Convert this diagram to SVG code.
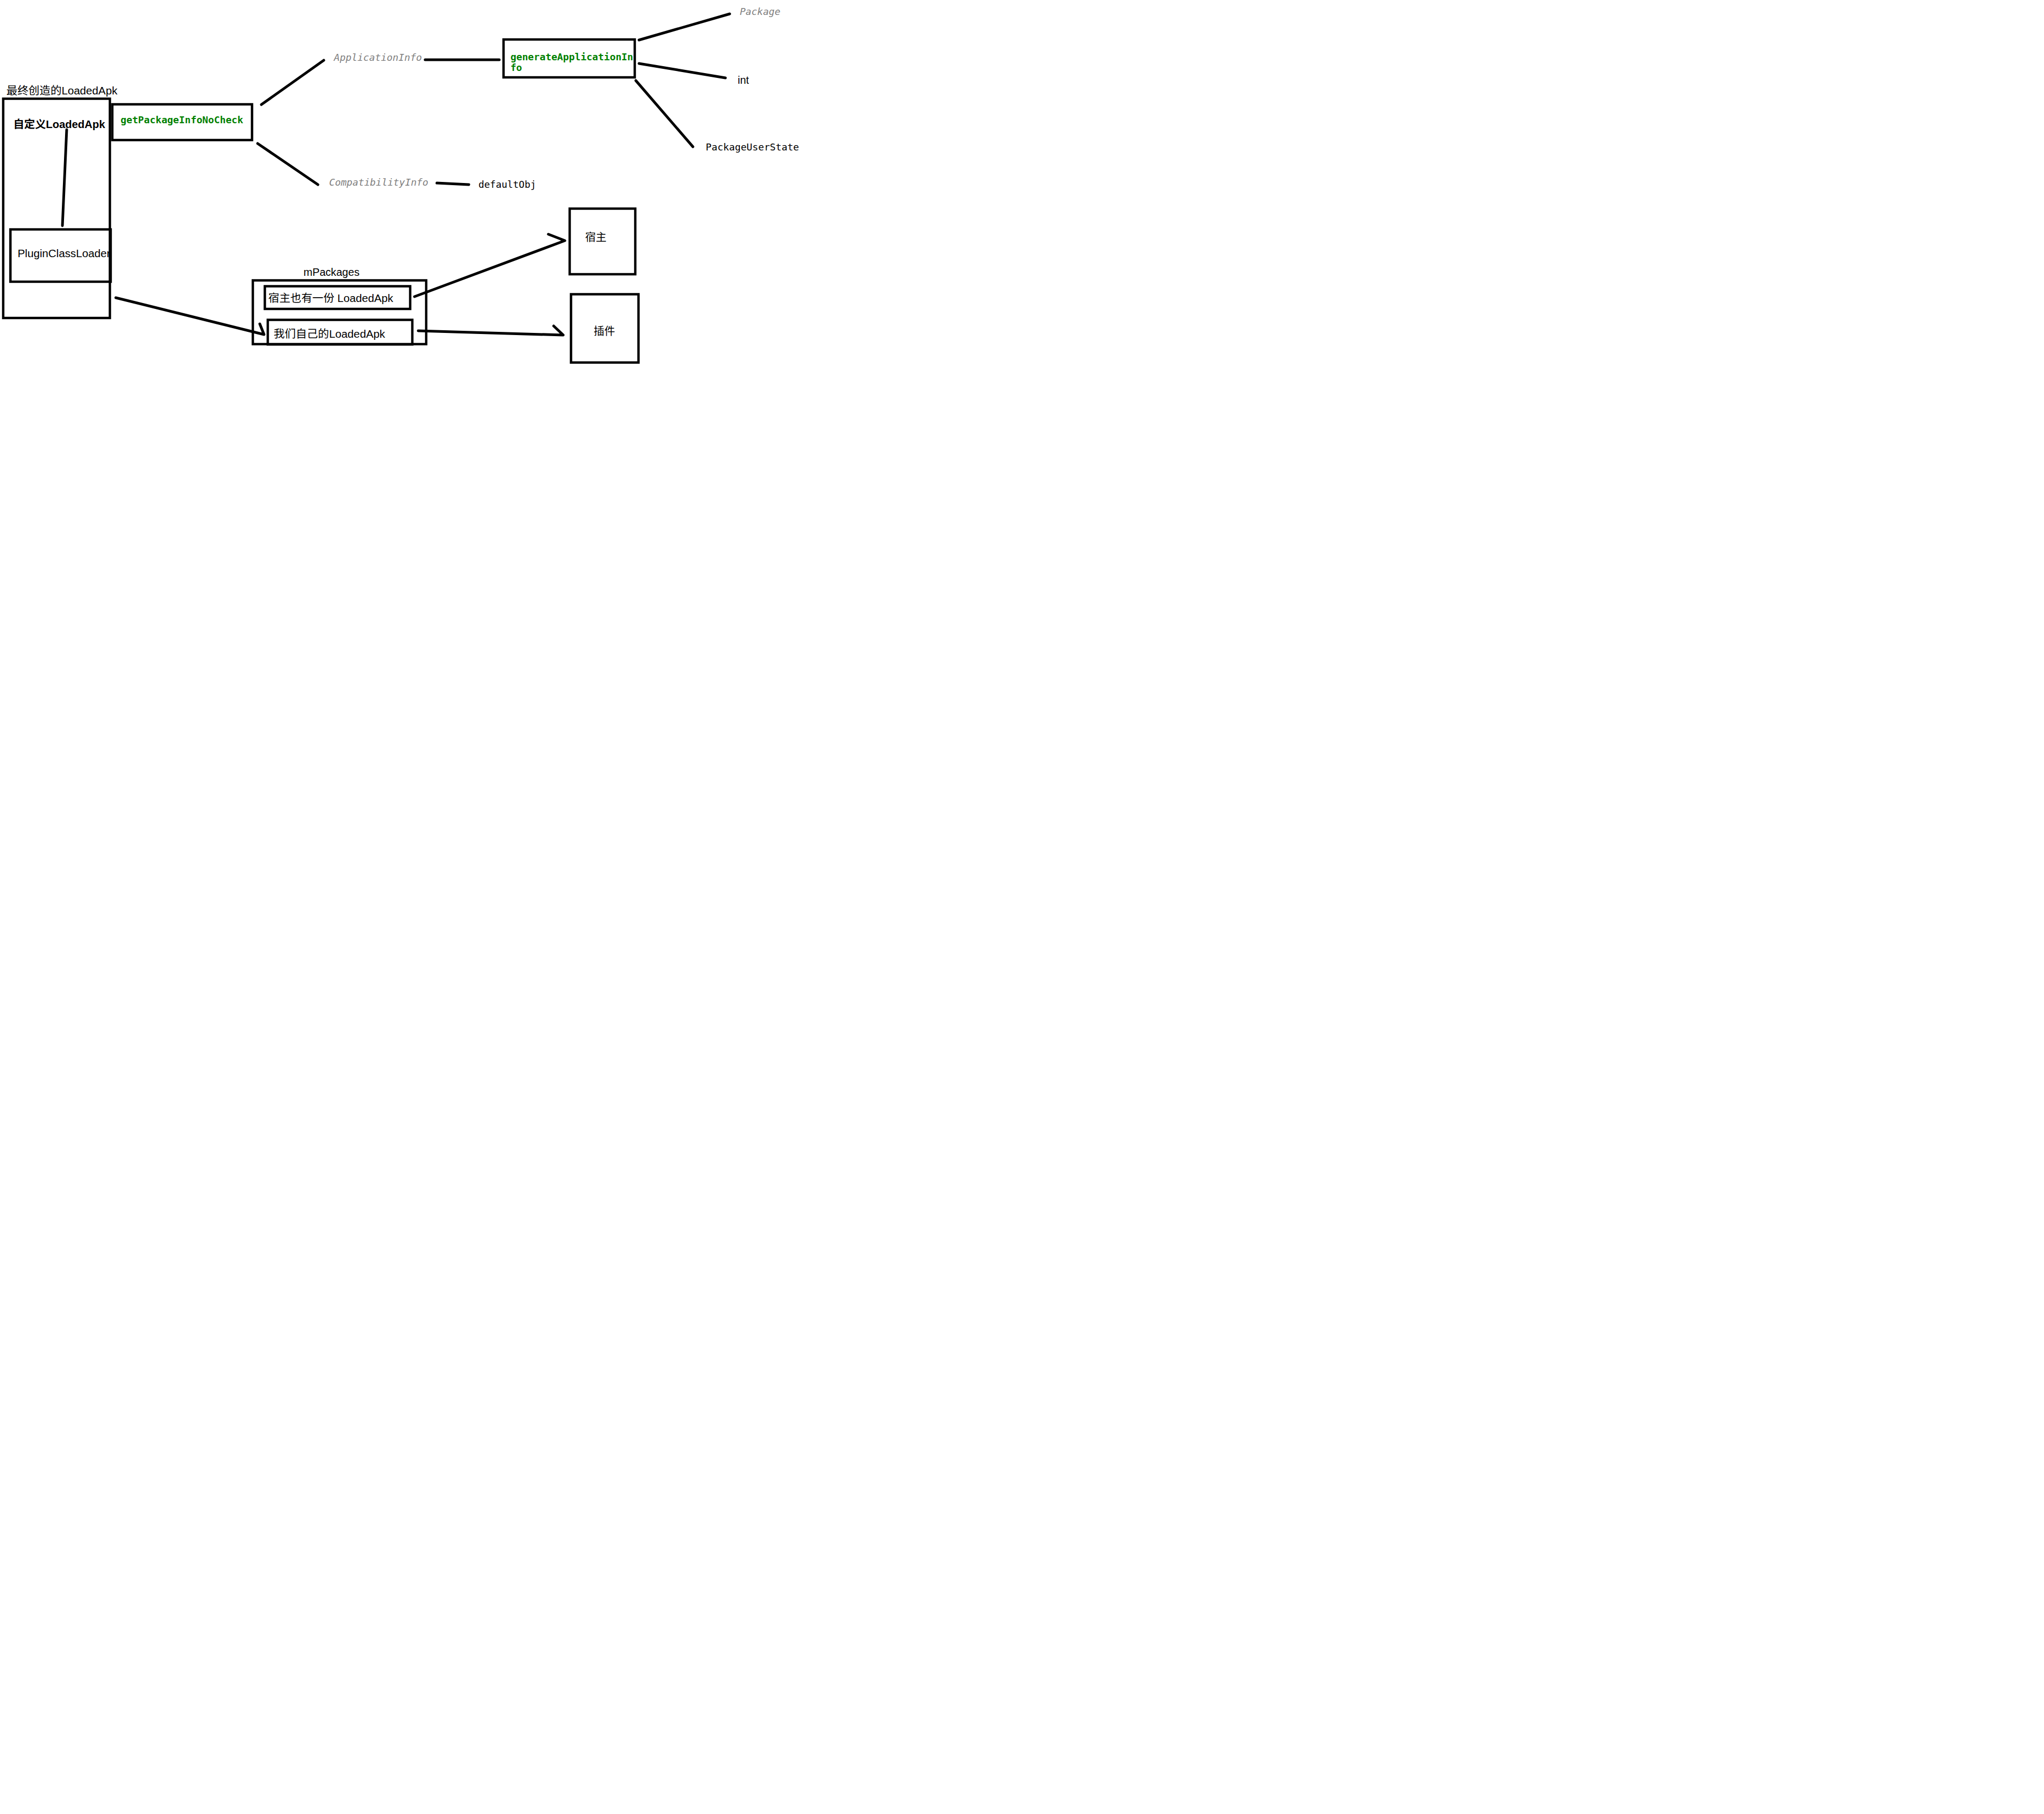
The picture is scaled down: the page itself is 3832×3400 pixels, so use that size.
<svg xmlns="http://www.w3.org/2000/svg" width="3832" height="3400" viewBox="0 0 3832 3400">
<style>
.box{fill:none;stroke:#000;stroke-width:4.5}
.ln{fill:none;stroke:#000;stroke-width:5;stroke-linecap:round;stroke-linejoin:round}
.sans{font-family:"Liberation Sans","Noto Sans CJK SC",sans-serif;font-size:20px;fill:#000}
.mono{font-family:"DejaVu Sans Mono","Liberation Mono",monospace;font-size:18px;fill:#000}
.green{fill:#008000;font-weight:bold}
.gray{fill:#808080;font-style:italic}
</style>
<rect x="0" y="0" width="3832" height="3400" fill="#fff"/>
<g id="final-loadedapk">
  <text class="sans" x="12" y="177" textLength="208" lengthAdjust="spacingAndGlyphs">最终创造的LoadedApk</text>
  <rect class="box" x="6" y="185" width="200" height="411"/>
  <text class="sans" x="25" y="240" font-weight="bold" textLength="172" lengthAdjust="spacingAndGlyphs">自定义LoadedApk</text>
</g>
<g id="plugin-classloader">
  <text class="sans" x="33" y="482" textLength="174" lengthAdjust="spacingAndGlyphs">PluginClassLoader</text>
  <rect class="box" x="19.5" y="430" width="188" height="98"/>
</g>
<g id="getPackageInfoNoCheck">
  <rect class="box" x="210.5" y="195.5" width="262" height="67"/>
  <text class="mono green" x="226" y="231" textLength="230" lengthAdjust="spacingAndGlyphs">getPackageInfoNoCheck</text>
</g>
<g id="applicationinfo">
  <text class="mono gray" x="626" y="114" textLength="165" lengthAdjust="spacingAndGlyphs">ApplicationInfo</text>
</g>
<g id="compatibilityinfo">
  <text class="mono gray" x="617" y="348" textLength="186" lengthAdjust="spacingAndGlyphs">CompatibilityInfo</text>
</g>
<g id="defaultobj">
  <text class="mono" x="897" y="352" textLength="108" lengthAdjust="spacingAndGlyphs">defaultObj</text>
</g>
<g id="generateApplicationInfo">
  <rect class="box" x="944" y="74" width="246" height="71"/>
  <text class="mono green" x="957" y="113" textLength="230" lengthAdjust="spacingAndGlyphs">generateApplicationIn</text>
  <text class="mono green" x="957" y="133">fo</text>
</g>
<g id="package">
  <text class="mono gray" x="1387" y="28" textLength="76" lengthAdjust="spacingAndGlyphs">Package</text>
</g>
<g id="int">
  <text class="sans" x="1383" y="157" font-size="19">int</text>
</g>
<g id="packageuserstate">
  <text class="mono" x="1323" y="282" textLength="175" lengthAdjust="spacingAndGlyphs">PackageUserState</text>
</g>
<g id="mpackages">
  <text class="sans" x="569" y="517" textLength="105" lengthAdjust="spacingAndGlyphs">mPackages</text>
  <rect class="box" x="474" y="525.5" width="325" height="119.5"/>
</g>
<g id="host-loadedapk">
  <rect class="box" x="496.5" y="536.5" width="272.5" height="42.5"/>
  <text class="sans" x="503" y="566" textLength="234" lengthAdjust="spacingAndGlyphs">宿主也有一份 LoadedApk</text>
</g>
<g id="our-loadedapk">
  <rect class="box" x="502" y="599.5" width="271" height="46"/>
  <text class="sans" x="513" y="633" textLength="209" lengthAdjust="spacingAndGlyphs">我们自己的LoadedApk</text>
</g>
<g id="host">
  <rect class="box" x="1068" y="391" width="123" height="123"/>
  <text class="sans" x="1097" y="452">宿主</text>
</g>
<g id="plugin">
  <rect class="box" x="1070.5" y="551.5" width="126.5" height="128"/>
  <text class="sans" x="1113" y="628">插件</text>
</g>
<g id="connectors">
  <path class="ln" d="M125,243 L117,423"/>
  <path class="ln" d="M490,196 L607,113"/>
  <path class="ln" d="M483,269 L596,346"/>
  <path class="ln" d="M797,112 L936,112"/>
  <path class="ln" d="M819,343 L879,346"/>
  <path class="ln" d="M1198,75 L1368,26"/>
  <path class="ln" d="M1198,119 L1360,146"/>
  <path class="ln" d="M1192,151 L1299,275"/>
  <path class="ln" d="M217,558 L495,627 L487,607"/>
  <path class="ln" d="M777,556 L1059,451 L1028,439"/>
  <path class="ln" d="M784,620 L1056,628 L1038,611"/>
</g>
</svg>
